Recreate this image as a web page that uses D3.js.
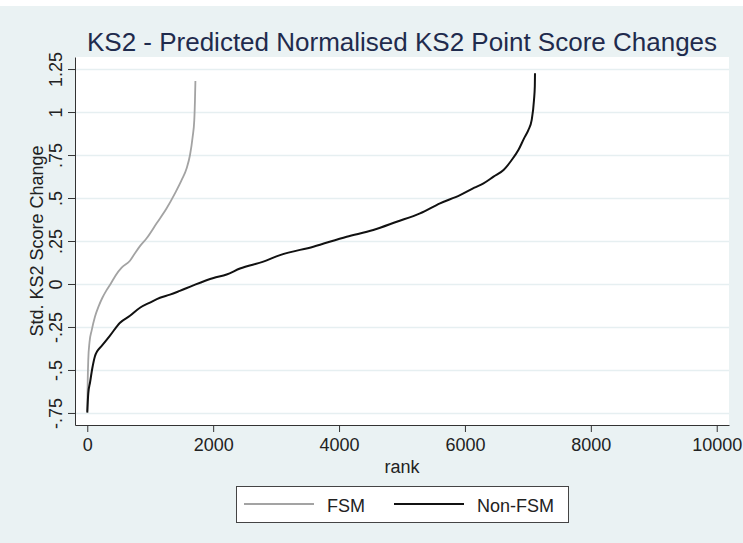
<!DOCTYPE html>
<html>
<head>
<meta charset="utf-8">
<script src="https://cdn.jsdelivr.net/npm/d3@7"></script>
<style>
  html, body { margin: 0; padding: 0; background: #eaf2f3; }
  svg { display: block; font-family: "Liberation Sans", Arial, Helvetica, sans-serif; }
</style>
</head>
<body>
<svg id="chart" width="743" height="543"></svg>
<script>
// FSM pupils: rank vs predicted change
var fsmRank = [0, 6, 16, 35, 70, 122, 180, 240, 300, 370, 450, 546, 678, 760, 837, 943, 1102, 1261, 1393, 1500, 1579, 1632, 1674, 1700, 1711, 1718];
var fsmScore = [-0.74, -0.58, -0.44, -0.34, -0.27, -0.19, -0.13, -0.08, -0.04, 0.0, 0.05, 0.095, 0.135, 0.18, 0.22, 0.266, 0.353, 0.44, 0.527, 0.605, 0.673, 0.75, 0.856, 0.953, 1.07, 1.18];

// Non-FSM pupils
var nonFsmRank = [0, 16, 45, 80, 122, 160, 229, 361, 520, 678, 837, 996, 1155, 1314, 1470, 1684, 2006, 2214, 2426, 2797, 3062, 3591, 4121, 4544, 4916, 5286, 5604, 5922, 6150, 6295, 6454, 6613, 6743, 6849, 6939, 7007, 7060, 7097, 7110, 7113];
var nonFsmScore = [-0.748, -0.636, -0.57, -0.49, -0.42, -0.39, -0.36, -0.30, -0.225, -0.185, -0.138, -0.108, -0.08, -0.062, -0.04, -0.008, 0.035, 0.055, 0.09, 0.13, 0.168, 0.217, 0.275, 0.314, 0.362, 0.411, 0.469, 0.517, 0.56, 0.585, 0.624, 0.663, 0.721, 0.779, 0.847, 0.895, 0.953, 1.07, 1.15, 1.225];

var xTicks = [0, 2000, 4000, 6000, 8000, 10000];
var yTicks = [-0.75, -0.5, -0.25, 0, 0.25, 0.5, 0.75, 1, 1.25];
var yTickLabels = ["-.75", "-.5", "-.25", "0", ".25", ".5", ".75", "1", "1.25"];
var seriesNames = ["FSM", "Non-FSM"];

var titleText = "KS2 - Predicted Normalised KS2 Point Score Changes";
var xTitle = "rank";
var yTitle = "Std. KS2 Score Change";

var bg = "#eaf2f3",
  gridColor = "#e6eff1",
  axisColor = "#333",
  fsmColor = "#a3a3a3",
  nonFsmColor = "#111";

var plotLeft = 75, plotRight = 729, plotTop = 57, plotBottom = 425;

var svg = d3.select("#chart");

svg.append("rect").attr("width", 743).attr("height", 543).attr("fill", bg);
// thin white strip on top of the screenshot
svg.append("rect").attr("width", 743).attr("height", 6).attr("fill", "#fff");

// scales (Stata pads the range a little past the outer ticks)
var xPad = 195, yPad = 0.07;
var x = d3.scaleLinear()
  .domain([0 - xPad, 10000 + xPad])
  .range([plotLeft, plotRight]);
var y = d3.scaleLinear()
  .domain([-0.75 - yPad, 1.25 + yPad])
  .range([plotBottom, plotTop]);

// plot region
svg.append("rect")
  .attr("x", plotLeft)
  .attr("y", plotTop)
  .attr("width", plotRight - plotLeft)
  .attr("height", plotBottom - plotTop)
  .attr("fill", "#fff");

// horizontal grid
svg.append("g")
  .selectAll("line")
  .data(yTicks)
  .enter().append("line")
  .attr("x1", plotLeft + 1)
  .attr("x2", plotRight)
  .attr("y1", function (d) { return Math.round(y(d)) + 0.5; })
  .attr("y2", function (d) { return Math.round(y(d)) + 0.5; })
  .attr("stroke", gridColor)
  .attr("stroke-width", 1.3);

// lines
var line = d3.line()
  .curve(d3.curveMonotoneX)
  .x(function (d) { return x(d[0]); })
  .y(function (d) { return y(d[1]); });

svg.append("path")
  .datum(d3.zip(fsmRank, fsmScore))
  .attr("d", line)
  .attr("fill", "none")
  .attr("stroke", fsmColor)
  .attr("stroke-width", 1.8)
  .attr("stroke-linejoin", "round");

svg.append("path")
  .datum(d3.zip(nonFsmRank, nonFsmScore))
  .attr("d", line)
  .attr("fill", "none")
  .attr("stroke", nonFsmColor)
  .attr("stroke-width", 2)
  .attr("stroke-linejoin", "round");

// x axis
var xAxis = d3.axisBottom(x)
  .tickValues(xTicks)
  .tickFormat(d3.format("d"))
  .tickSize(7)
  .tickSizeOuter(0);

var gx = svg.append("g")
  .attr("transform", "translate(0," + plotBottom + ")")
  .call(xAxis);
gx.select(".domain").attr("stroke", axisColor);
gx.selectAll(".tick line").attr("stroke", axisColor);
gx.selectAll(".tick text")
  .attr("y", 25.5)
  .attr("dy", 0)
  .attr("fill", "#222")
  .style("font-size", "18px")
  .style("font-family", "Liberation Sans, Arial, sans-serif");

// y axis, labels turned like Stata does
var yAxis = d3.axisLeft(y)
  .tickValues(yTicks)
  .tickFormat(function (d, i) { return yTickLabels[i]; })
  .tickSize(7)
  .tickSizeOuter(0);

var gy = svg.append("g")
  .attr("transform", "translate(" + plotLeft + ",0)")
  .call(yAxis);
gy.select(".domain").attr("stroke", axisColor);
gy.selectAll(".tick line").attr("stroke", axisColor);
gy.selectAll(".tick text")
  .attr("x", 0)
  .attr("dy", 0)
  .attr("text-anchor", "middle")
  .attr("transform", "translate(-13,0) rotate(-90)")
  .attr("fill", "#222")
  .style("font-size", "18px")
  .style("font-family", "Liberation Sans, Arial, sans-serif");

// titles
svg.append("text")
  .attr("x", (plotLeft + plotRight) / 2)
  .attr("y", 51)
  .attr("text-anchor", "middle")
  .attr("fill", "#1f2b4d")
  .style("font-size", "26px")
  .text(titleText);

svg.append("text")
  .attr("x", (plotLeft + plotRight) / 2)
  .attr("y", 472.5)
  .attr("text-anchor", "middle")
  .attr("fill", "#222")
  .style("font-size", "18px")
  .text(xTitle);

svg.append("text")
  .attr("transform", "translate(43," + ((plotTop + plotBottom) / 2) + ") rotate(-90)")
  .attr("text-anchor", "middle")
  .attr("fill", "#222")
  .style("font-size", "18px")
  .text(yTitle);

// legend
var legendX = 236, legendY = 486, legendW = 332, legendH = 36;
var legend = svg.append("g");
legend.append("rect")
  .attr("x", legendX + 0.5)
  .attr("y", legendY + 0.5)
  .attr("width", legendW)
  .attr("height", legendH)
  .attr("fill", "#fff")
  .attr("stroke", "#444")
  .attr("stroke-width", 1);

var legendItems = [
  { name: seriesNames[0], color: fsmColor, width: 1.8, x0: 244 },
  { name: seriesNames[1], color: nonFsmColor, width: 2, x0: 394 }
];

var item = legend.selectAll(".item")
  .data(legendItems)
  .enter().append("g")
  .attr("class", "item");

item.append("line")
  .attr("x1", function (d) { return d.x0; })
  .attr("x2", function (d) { return d.x0 + 70; })
  .attr("y1", legendY + 18)
  .attr("y2", legendY + 18)
  .attr("stroke", function (d) { return d.color; })
  .attr("stroke-width", function (d) { return d.width; });

item.append("text")
  .attr("x", function (d) { return d.x0 + 83; })
  .attr("y", legendY + 25.5)
  .attr("fill", "#222")
  .style("font-size", "18px")
  .text(function (d) { return d.name; });
</script>
</body>
</html>
